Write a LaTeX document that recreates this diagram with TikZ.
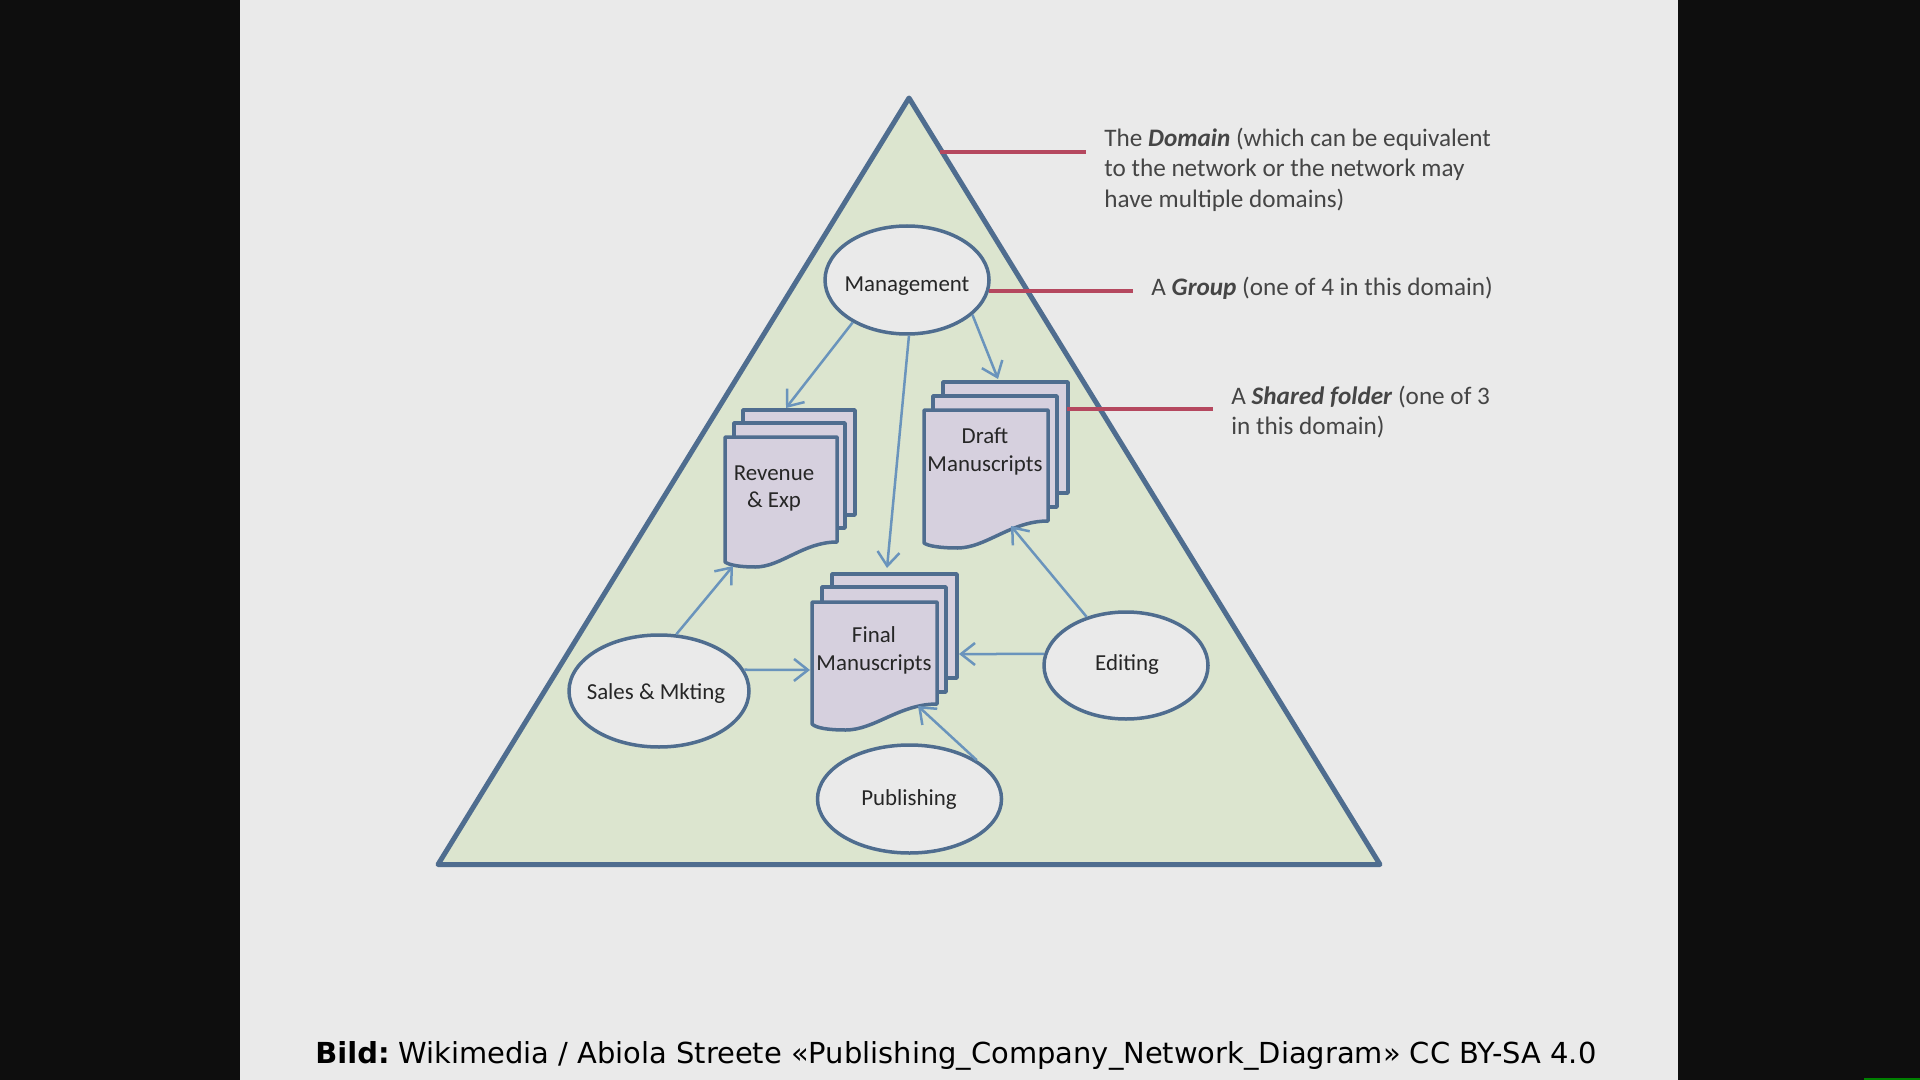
\documentclass[tikz,border=0pt]{standalone}
\usepackage{fontspec}
\setmainfont{Carlito}
\newfontfamily\capfont{DejaVu Sans}
\usetikzlibrary{shapes.geometric,arrows.meta}
\definecolor{pagebg}{HTML}{EAEAEA}
\definecolor{outerbg}{HTML}{0E0E0E}
\definecolor{trifill}{HTML}{DCE5CF}
\definecolor{edgeblue}{HTML}{4F6D8F}
\definecolor{sheetfill}{HTML}{D6D0DE}
\definecolor{redline}{HTML}{B5485F}
\definecolor{arrowblue}{HTML}{6A94BC}
\definecolor{notegrey}{HTML}{454545}
\tikzset{
  group/.style={ellipse,draw=edgeblue,fill=pagebg,line width=1.75pt,inner sep=0pt},
  sheet/.style={draw=edgeblue,fill=sheetfill,line width=1.75pt,line join=round},
  doclabel/.style={anchor=base,inner sep=0pt,text=black!85,font=\fontsize{11.45}{14}\selectfont},
  link/.style={draw=arrowblue,line width=1.25pt,-{Straight Barb[length=7pt,width=11pt,line width=1.25pt]}},
  callout/.style={draw=redline,line width=1.9pt},
  note/.style={align=left,inner sep=0pt,text=notegrey,font=\fontsize{12.6}{15.25}\selectfont},
}
\newcommand{\backsheet}[4]{\draw[sheet] (#1,#2) rectangle (#3,#4);}
\newcommand{\frontsheet}[6]{%
  \pgfmathsetmacro{\shw}{#3-#1}%
  \pgfmathsetmacro{\xa}{#3-0.3*\shw}%
  \pgfmathsetmacro{\xb}{#1+0.5*\shw}%
  \pgfmathsetmacro{\xc}{#1+0.27*\shw}%
  \pgfmathsetmacro{\xd}{#1+0.13*\shw}%
  \draw[sheet] (#1,#2) -- (#3,#2) -- (#3,#4) .. controls (\xa,#4) and (\xb,#6) .. (\xc,#6) .. controls (\xd,#6) and (#1+4,#6-2) .. (#1,#5) -- cycle;}
\begin{document}
\begin{tikzpicture}[x=0.5pt,y=-0.5pt]
\useasboundingbox (0,0) rectangle (1920,1080);
\fill[outerbg] (0,0) rectangle (1920,1080);
\fill[pagebg] (240,0) rectangle (1678,1080);
\fill[green!50!black] (1864,1078) rectangle (1920,1080);
% triangle
\coordinate (apex) at (909,98);
\coordinate (bl) at (438,864.5);
\coordinate (br) at (1380,864.5);
\draw[fill=trifill,draw=edgeblue,line width=2.5pt,line join=round] (apex) -- (br) -- (bl) -- cycle;
% group ellipses
\node[group,minimum width=82pt,minimum height=54pt] (mgmt) at (907,280) {};
\node[group,minimum width=90pt,minimum height=56pt] (sales) at (659,691) {};
\node[group,minimum width=82pt,minimum height=53.5pt] (edit) at (1126,665.5) {};
\node[group,minimum width=92pt,minimum height=54pt] (pub) at (909.5,799) {};
\node[doclabel] (mgmtlabel) at (907,292) {Management};
\node[doclabel] (saleslabel) at (656,699) {Sales \& Mkting};
\node[doclabel] (editlabel) at (1127,670) {Editing};
\node[doclabel] (publabel) at (909,805.5) {Publishing};
% revenue
\backsheet{743}{410}{855}{515}
\backsheet{734}{423}{845}{528}
\frontsheet{725}{437}{837}{542}{562}{567}
\node[doclabel] (rev1) at (774,480) {Revenue};
\node[doclabel] (rev2) at (774,507) {\& Exp};
% draft
\backsheet{943}{382}{1068}{493}
\backsheet{933}{396}{1057}{507}
\frontsheet{924}{410}{1048}{521}{543}{548}
\node[doclabel] (dr1) at (985,443) {Draft};
\node[doclabel] (dr2) at (985,471) {Manuscripts};
% final
\backsheet{832}{574}{957}{678}
\backsheet{822}{587}{946}{692}
\frontsheet{812}{602}{937}{704}{724}{730}
\node[doclabel] (fi1) at (874,642) {Final};
\node[doclabel] (fi2) at (874,670) {Manuscripts};
% arrow ends on the sheets
\coordinate (revtop) at (786,408);
\coordinate (revbot) at (733,566);
\coordinate (drtop) at (998,379);
\coordinate (drbot) at (1011,526);
\coordinate (fitop) at (887,568);
\coordinate (fileft) at (810,670);
\coordinate (firight) at (959,654);
\coordinate (fibot) at (918,706);
\draw[link] (mgmt.218) -- (revtop);
\draw[link] (mgmt.272) -- (fitop);
\draw[link] (mgmt.332) -- (drtop);
\draw[link] (sales.73) -- (revbot);
\draw[link] (sales.14) -- (fileft);
\draw[link] (edit.172) -- (firight);
\draw[link] (edit.129) -- (drbot);
\draw[link] (pub.30) -- (fibot);
% callouts
\coordinate (domstart) at (940,152);
\coordinate (domend) at (1086,152);
\coordinate (grpstart) at (989,291);
\coordinate (grpend) at (1133,291);
\coordinate (shstart) at (1067,409);
\coordinate (shend) at (1213,409);
\draw[callout] (domstart) -- (domend);
\draw[callout] (grpstart) -- (grpend);
\draw[callout] (shstart) -- (shend);
\node[note,anchor=west] (domnote) at (1104,169.5) {The \textbf{\textit{Domain}} (which can be equivalent\\to the network or the network may\\have multiple domains)};
\node[note,anchor=base west] (grpnote) at (1151,295.5) {A \textbf{\textit{Group}} (one of 4 in this domain)};
\node[note,anchor=west] (shnote) at (1231,412) {A \textbf{\textit{Shared folder}} (one of 3\\in this domain)};
\node[anchor=base west,inner sep=0pt,text=black,font=\fontsize{14.47}{16}\selectfont\capfont] (cap) at (315,1063) {\textbf{Bild:}\hspace{-1.8pt} Wikimedia / Abiola Streete «Publishing\_Company\_Network\_Diagram» CC BY-SA 4.0};
\end{tikzpicture}
\end{document}
